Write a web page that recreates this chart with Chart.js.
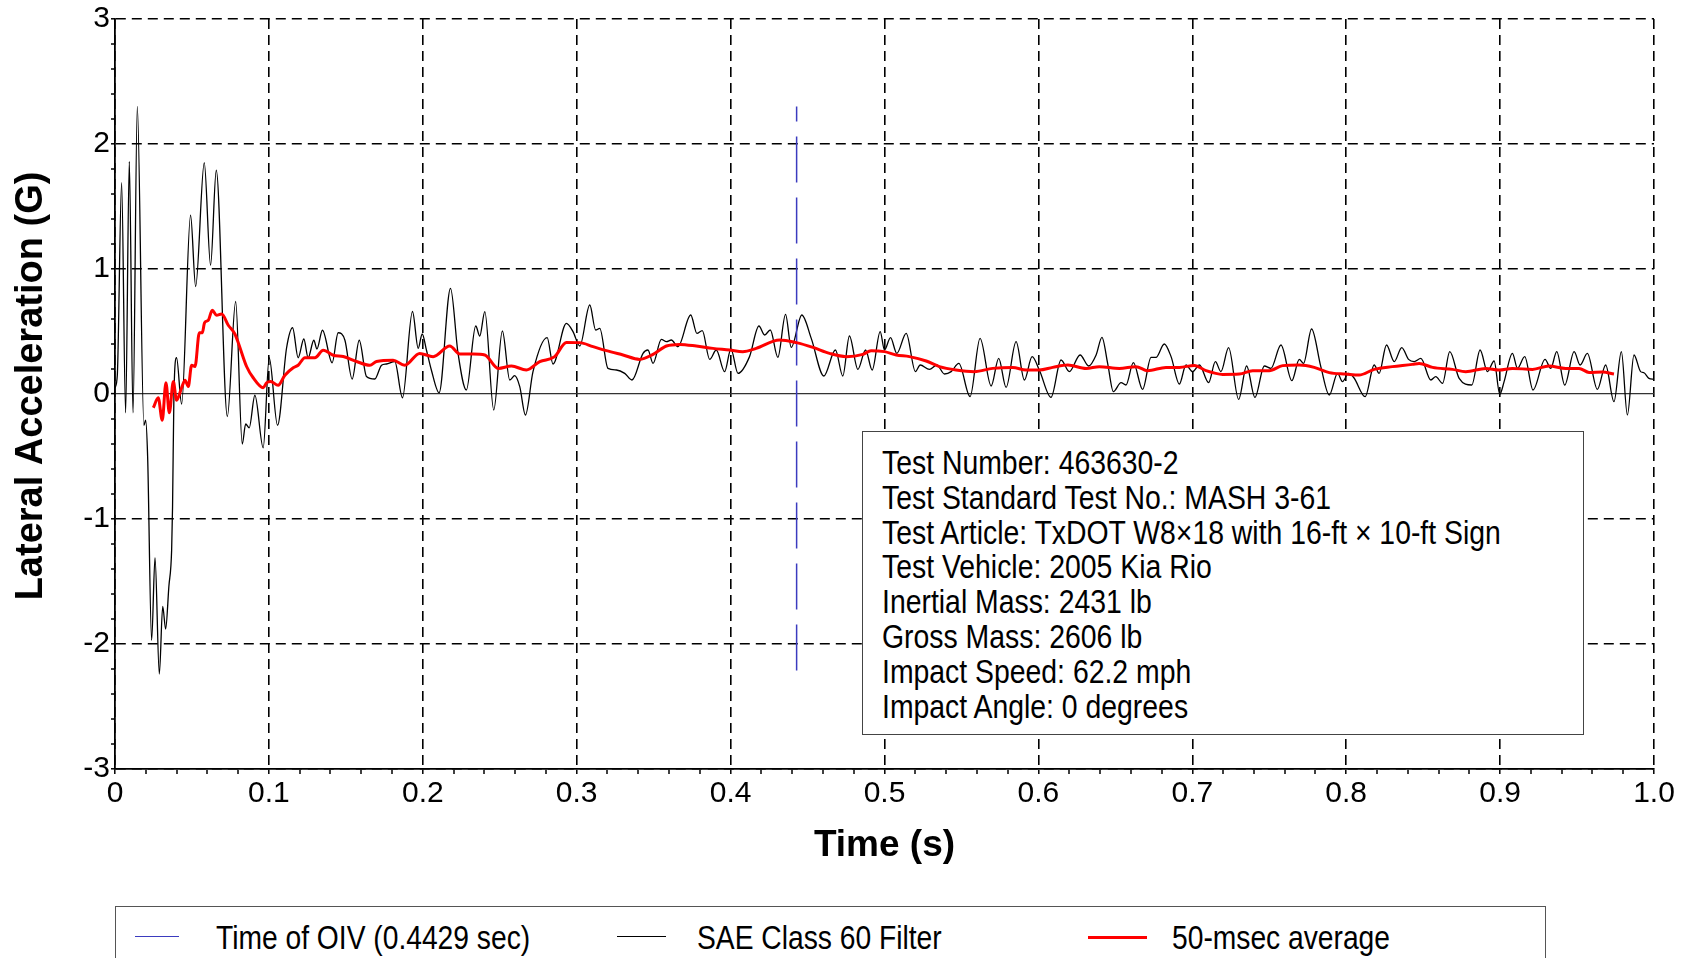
<!DOCTYPE html>
<html><head><meta charset="utf-8">
<script src="https://cdn.jsdelivr.net/npm/chart.js@4.4.1/dist/chart.umd.min.js"></script>
<style>
html,body{margin:0;padding:0;background:#fff;}
#wrap{position:relative;width:1686px;height:958px;overflow:hidden;background:#fff;}
#chart{position:absolute;left:0;top:0;}
.narrow{font-family:'Liberation Sans',Arial,sans-serif;color:#000;}
#info{position:absolute;left:862px;top:431px;width:722px;height:304px;border:1.5px solid #444;background:#fff;box-sizing:border-box;padding:14px 0 0 19px;font-size:33px;line-height:34.8px;white-space:nowrap;}
#info span{display:inline-block;transform:scaleX(0.86);transform-origin:0 50%;}
#legend{position:absolute;left:115px;top:906px;width:1431px;height:90px;border:1.5px solid #555;background:#fff;box-sizing:border-box;}
.lline{position:absolute;top:30px;height:0;}
.ltext{position:absolute;top:13px;font-size:33px;line-height:36px;white-space:nowrap;transform:scaleX(0.855);transform-origin:0 50%;}
</style>
</head><body>
<div id="wrap">
<canvas id="chart" width="1686" height="958"></canvas>
<div id="info" class="narrow"></div>
<div id="legend" class="narrow"></div>
</div>
<script>
// ---------- data ----------
const blackTime = [0.000,0.0015,0.0043,0.0069,0.0093,0.0117,0.0145,0.0188,0.0199,0.0212,0.0238,0.0260,0.0288,0.0310,0.0329,0.0350,0.0368,0.0374,0.0383,0.0400,0.0433,0.0491,0.0524,0.0580,0.0621,0.0658,0.0730,0.0784,0.0827,0.0849,0.0872,0.0909,0.0963,0.1002,0.1056,0.1115,0.1154,0.1190,0.1227,0.1255,0.1292,0.1312,0.1348,0.1411,0.1450,0.1494,0.1541,0.1587,0.1634,0.1688,0.1732,0.1764,0.1818,0.1868,0.1933,0.1970,0.1996,0.2024,0.2056,0.2106,0.2180,0.2229,0.2283,0.2344,0.2370,0.2403,0.2461,0.2517,0.2565,0.2597,0.2630,0.2667,0.2716,0.2808,0.2846,0.2933,0.2976,0.3020,0.3085,0.3123,0.3150,0.3203,0.3258,0.3312,0.3359,0.3431,0.3463,0.3496,0.3550,0.3583,0.3615,0.3658,0.3741,0.3781,0.3816,0.3864,0.3907,0.3961,0.4002,0.4048,0.4123,0.4184,0.4221,0.4258,0.4307,0.4357,0.4394,0.4463,0.4524,0.4606,0.4681,0.4729,0.4772,0.4827,0.4877,0.4920,0.4972,0.5000,0.5039,0.5080,0.5141,0.5201,0.5232,0.5292,0.5340,0.5390,0.5433,0.5483,0.5556,0.5621,0.5693,0.5742,0.5790,0.5855,0.5909,0.5959,0.6006,0.6082,0.6147,0.6201,0.6271,0.6327,0.6375,0.6413,0.6450,0.6487,0.6537,0.6569,0.6617,0.6677,0.6732,0.6764,0.6818,0.6862,0.6916,0.6959,0.7002,0.7046,0.7106,0.7150,0.7186,0.7236,0.7301,0.7353,0.7407,0.7468,0.7511,0.7576,0.7647,0.7695,0.7723,0.7775,0.7835,0.7890,0.7944,0.7976,0.8015,0.8050,0.8123,0.8182,0.8214,0.8262,0.8312,0.8361,0.8405,0.8442,0.8485,0.8550,0.8582,0.8626,0.8673,0.8734,0.8816,0.8870,0.8918,0.8961,0.8998,0.9026,0.9080,0.9113,0.9160,0.9214,0.9292,0.9329,0.9368,0.9420,0.9481,0.9520,0.9567,0.9632,0.9686,0.9740,0.9788,0.9827,0.9870,0.9913,0.9935,0.9967,1.0000];
const blackAccel = [0.05,0.15,1.69,-0.15,1.86,-0.15,2.30,-0.25,-0.21,-0.50,-1.97,-1.31,-2.24,-1.70,-1.88,-1.54,-1.25,-0.90,0.00,0.29,-0.08,1.43,0.86,1.85,1.03,1.79,-0.18,0.74,-0.40,-0.24,-0.27,-0.01,-0.43,0.29,-0.25,0.37,0.53,0.29,0.44,0.29,0.43,0.36,0.51,0.25,0.49,0.43,0.12,0.43,0.14,0.12,0.23,0.24,0.26,-0.03,0.66,0.365,0.48,0.35,0.19,0.01,0.845,0.325,0.032,0.544,0.464,0.659,-0.128,0.504,0.112,0.147,0.059,-0.168,0.179,0.451,0.24,0.565,0.499,0.384,0.712,0.512,0.525,0.205,0.192,0.165,0.112,0.325,0.352,0.245,0.437,0.419,0.432,0.379,0.632,0.485,0.507,0.277,0.352,0.179,0.36,0.165,0.299,0.544,0.472,0.512,0.293,0.637,0.373,0.632,0.445,0.144,0.352,0.144,0.464,0.197,0.352,0.192,0.499,0.352,0.451,0.325,0.485,0.179,0.232,0.197,0.232,0.16,0.179,0.245,-0.021,0.445,0.064,0.285,0.053,0.419,0.112,0.299,0.192,-0.027,0.272,0.179,0.312,0.224,0.312,0.453,0.245,0.019,0.091,0.072,0.251,0.037,0.293,0.293,0.40,0.299,0.08,0.232,0.179,0.232,0.091,0.259,0.179,0.371,-0.043,0.224,-0.027,0.224,0.205,0.392,0.107,0.277,0.245,0.52,0.219,-0.008,0.165,0.099,0.165,0.13,-0.021,0.232,0.165,0.392,0.259,0.371,0.277,0.259,0.285,0.112,0.139,0.085,0.339,0.125,0.072,0.352,0.179,0.264,-0.003,0.099,0.325,0.205,0.299,0.032,0.277,0.205,0.339,0.072,0.339,0.232,0.325,0.037,0.232,-0.061,0.339,-0.168,0.312,0.179,0.17,0.125,0.117];

const avgTime = [0.0249,0.0281,0.0307,0.0331,0.0353,0.0379,0.0400,0.0433,0.0455,0.0476,0.0498,0.0520,0.0548,0.0567,0.0582,0.0606,0.0632,0.0660,0.0693,0.0736,0.0779,0.0801,0.0855,0.0898,0.0963,0.0985,0.1011,0.1060,0.1104,0.1158,0.1190,0.1234,0.1299,0.1353,0.1418,0.1483,0.1569,0.1656,0.1699,0.1807,0.1883,0.1980,0.2067,0.2175,0.2241,0.2327,0.2403,0.2490,0.2576,0.2673,0.2760,0.2857,0.2933,0.3020,0.3106,0.3193,0.3301,0.3409,0.3496,0.3583,0.3669,0.3777,0.3885,0.3994,0.4079,0.4166,0.4318,0.4427,0.4535,0.4643,0.4751,0.4859,0.4913,0.5000,0.5076,0.5162,0.5271,0.5357,0.5465,0.5585,0.5703,0.5833,0.5920,0.6006,0.6093,0.6191,0.6310,0.6396,0.6526,0.6634,0.6710,0.6829,0.6916,0.7013,0.7089,0.7197,0.7306,0.7392,0.7500,0.7587,0.7695,0.7792,0.7890,0.7998,0.8084,0.8182,0.8300,0.8430,0.8474,0.8561,0.8690,0.8777,0.8907,0.8993,0.9080,0.9210,0.9318,0.9426,0.9513,0.9578,0.9665,0.9740];
const avgAccel = [-0.11,-0.03,-0.21,0.09,-0.15,0.10,-0.05,0.05,0.11,0.06,0.23,0.22,0.49,0.49,0.57,0.59,0.67,0.63,0.64,0.55,0.48,0.41,0.22,0.13,0.05,0.09,0.10,0.07,0.15,0.21,0.23,0.29,0.29,0.35,0.31,0.30,0.26,0.23,0.26,0.27,0.23,0.325,0.299,0.384,0.32,0.32,0.312,0.205,0.224,0.192,0.259,0.299,0.413,0.411,0.379,0.347,0.312,0.277,0.317,0.384,0.397,0.384,0.365,0.352,0.339,0.365,0.432,0.411,0.373,0.325,0.299,0.317,0.347,0.339,0.312,0.299,0.264,0.219,0.192,0.179,0.205,0.213,0.192,0.192,0.213,0.232,0.205,0.219,0.205,0.219,0.187,0.213,0.213,0.229,0.187,0.157,0.16,0.187,0.187,0.227,0.232,0.213,0.171,0.16,0.152,0.197,0.219,0.237,0.245,0.213,0.197,0.179,0.205,0.192,0.205,0.197,0.224,0.205,0.205,0.173,0.176,0.16];

const oivTime = 0.4429;
const oivTop = 2.30;
const oivBottom = -2.24;

const xMajorTicks = [0,0.1,0.2,0.3,0.4,0.5,0.6,0.7,0.8,0.9,1.0];
const xTickLabels = ['0','0.1','0.2','0.3','0.4','0.5','0.6','0.7','0.8','0.9','1.0'];
const yMajorTicks = [-3,-2,-1,0,1,2,3];
const yTickLabels = ['-3','-2','-1','0','1','2','3'];
const xMinorStep = 0.02;
const yMinorStep = 0.2;

const xTitle = 'Time (s)';
const yTitle = 'Lateral Acceleration (G)';
const legendLabels = ['Time of OIV (0.4429 sec)','SAE Class 60 Filter','50-msec average'];
const infoLines = [
  'Test Number: 463630-2',
  'Test Standard Test No.: MASH 3-61',
  'Test Article: TxDOT W8\u00d718 with 16-ft \u00d7 10-ft Sign',
  'Test Vehicle: 2005 Kia Rio',
  'Inertial Mass: 2431 lb',
  'Gross Mass: 2606 lb',
  'Impact Speed: 62.2 mph',
  'Impact Angle: 0 degrees'
];

// ---------- build ----------
const toXY = (ts, vs) => ts.map((t, i) => ({x: t, y: vs[i]}));
const near = (a, b) => Math.abs(a - b) < 1e-6;
const majorIndex = (arr, v) => arr.findIndex(m => near(m, v));

function stepTicks(min, max, step) {
  const out = [];
  const n = Math.round((max - min) / step);
  for (let i = 0; i <= n; i++) out.push({value: Math.round((min + i * step) * 1000) / 1000});
  return out;
}

const C = {black:'#000000', red:'#ff0000', blue:'#3b3bbf'};
const dashGrid = [10, 6];

// y-axis title drawn slightly above the centre of the axis, as in the reference
const yTitleShift = 8;
const shiftYTitle = {
  id: 'shiftYTitle',
  afterDraw(chart) {
    const s = chart.scales.y;
    const ctx = chart.ctx;
    ctx.save();
    ctx.font = "bold 38px 'Liberation Sans', Arial, sans-serif";
    ctx.fillStyle = '#000';
    ctx.textAlign = 'center';
    ctx.textBaseline = 'middle';
    ctx.translate(s.left + 32, (s.top + s.bottom) / 2 - yTitleShift);
    ctx.rotate(-Math.PI / 2);
    ctx.fillText(yTitle, 0, 0);
    ctx.restore();
  }
};

new Chart(document.getElementById('chart'), {
  type: 'line',
  data: {
    datasets: [
      {label: legendLabels[2], data: toXY(avgTime, avgAccel), borderColor: C.red, borderWidth: 3,
       pointRadius: 0, cubicInterpolationMode: 'monotone', fill: false},
      {label: legendLabels[0], data: [{x: oivTime, y: oivTop}, {x: oivTime, y: oivBottom}], borderColor: C.blue,
       borderWidth: 1.5, borderDash: [46, 15], borderDashOffset: 31, pointRadius: 0, fill: false},
      {label: legendLabels[1], data: toXY(blackTime, blackAccel), borderColor: C.black, borderWidth: 1.3,
       pointRadius: 0, cubicInterpolationMode: 'monotone', fill: false}
    ]
  },
  plugins: [shiftYTitle],
  options: {
    responsive: false, animation: false, devicePixelRatio: 1,
    layout: {padding: {top: 19, right: 32, bottom: 0, left: 0}},
    plugins: {legend: {display: false}, tooltip: {enabled: false}},
    scales: {
      x: {
        type: 'linear', min: 0, max: 1,
        afterBuildTicks: s => { s.ticks = stepTicks(0, 1, xMinorStep); },
        afterFit: s => { s.height = 189; },
        ticks: {
          autoSkip: false, maxRotation: 0, minRotation: 0, padding: 2, color: '#000',
          font: {family: "'Liberation Sans', Arial, sans-serif", size: 30},
          callback: v => { const i = majorIndex(xMajorTicks, v); return i >= 0 ? xTickLabels[i] : ''; }
        },
        grid: {
          lineWidth: c => (c.tick && majorIndex(xMajorTicks, c.tick.value) >= 0) ? 1.6 : 0,
          color: '#000', tickColor: '#000', tickWidth: 1.5, tickLength: 5, drawTicks: true
        },
        border: {display: true, color: '#000', width: 1.8, dash: dashGrid},
        title: {display: true, text: xTitle, color: '#000',
          font: {family: "'Liberation Sans', Arial, sans-serif", size: 37, weight: 'bold'},
          padding: {top: 0, bottom: 90}}
      },
      y: {
        type: 'linear', min: -3, max: 3,
        afterBuildTicks: s => { s.ticks = stepTicks(-3, 3, yMinorStep); },
        afterFit: s => { s.width = 115; },
        ticks: {
          autoSkip: false, padding: 1, color: '#000',
          font: {family: "'Liberation Sans', Arial, sans-serif", size: 30},
          callback: v => { const i = majorIndex(yMajorTicks, v); return i >= 0 ? yTickLabels[i] : ''; }
        },
        grid: {
          lineWidth: c => { if (!c.tick) return 1.6; const i = majorIndex(yMajorTicks, c.tick.value); return i < 0 ? 0 : (near(c.tick.value, 0) ? 1.2 : 1.6); },
          color: c => (c.tick && near(c.tick.value, 0)) ? '#333' : '#000',
          tickColor: '#000', tickWidth: 1.5, tickLength: 4, drawTicks: true
        },
        border: {display: true, color: '#000', width: 1.8,
          dash: c => (c.tick && near(c.tick.value, 0)) ? [] : dashGrid},
        title: {display: false}
      }
    }
  }
});

// ---------- info box ----------
document.getElementById('info').innerHTML = infoLines.map(s => '<div><span>' + s + '</span></div>').join('');

// ---------- legend ----------
const legendItems = [
  {line: [19, 63], text: 100, color: C.blue, width: 1.5},
  {line: [501, 550], text: 581, color: C.black, width: 1.3},
  {line: [972, 1031], text: 1056, color: C.red, width: 3}
];
const lg = document.getElementById('legend');
legendItems.forEach((it, i) => {
  const l = document.createElement('div');
  l.className = 'lline';
  l.style.left = it.line[0] + 'px';
  l.style.width = (it.line[1] - it.line[0]) + 'px';
  l.style.borderTop = it.width + 'px solid ' + it.color;
  l.style.marginTop = (-it.width / 2) + 'px';
  lg.appendChild(l);
  const t = document.createElement('div');
  t.className = 'ltext';
  t.style.left = it.text + 'px';
  t.textContent = legendLabels[i];
  lg.appendChild(t);
});
</script>
</body></html>
